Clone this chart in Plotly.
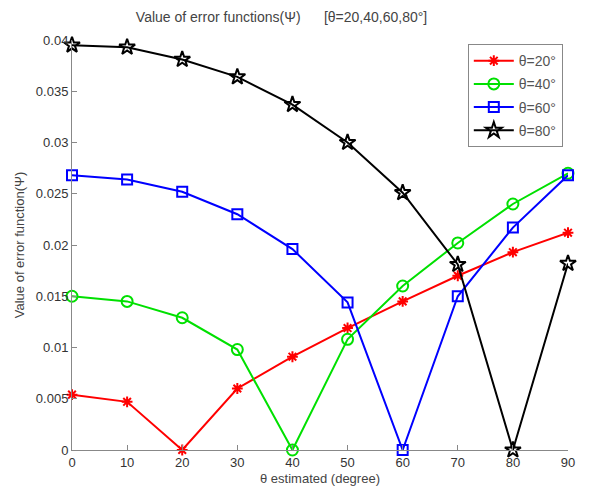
import plotly.graph_objects as go

theta_est = [0, 10, 20, 30, 40, 50, 60, 70, 80, 90]
psi_20 = [0.0054, 0.0047, 0.0, 0.0060, 0.0091, 0.0119, 0.0145, 0.0170, 0.0193, 0.0212]
psi_40 = [0.0150, 0.0145, 0.0129, 0.0098, 0.0, 0.0108, 0.0160, 0.0202, 0.0240, 0.0270]
psi_60 = [0.0268, 0.0264, 0.0252, 0.0230, 0.0196, 0.0144, 0.0, 0.0150, 0.0217, 0.0268]
psi_80 = [0.0395, 0.0393, 0.0381, 0.0364, 0.0337, 0.0300, 0.0251, 0.0181, 0.0, 0.0182]

series = [
    ("θ=20°", psi_20, "#ff0000", "asterisk-open", 9),
    ("θ=40°", psi_40, "#00e000", "circle-open", 11),
    ("θ=60°", psi_60, "#0000ff", "square-open", 10),
    ("θ=80°", psi_80, "#000000", "star-open", 12),
]

yticks = [0, 0.005, 0.01, 0.015, 0.02, 0.025, 0.03, 0.035, 0.04]
ytext = ["0", "0.005", "0.01", "0.015", "0.02", "0.025", "0.03", "0.035", "0.04"]
xticks = [0, 10, 20, 30, 40, 50, 60, 70, 80, 90]

fig = go.Figure()
for i, (name, vals, col, sym, sz) in enumerate(series):
    fig.add_trace(go.Scatter(
        x=theta_est, y=vals, name=name, mode="lines+markers",
        legendgroup="g%d" % i,
        line=dict(color=col, width=2),
        marker=dict(symbol=sym, size=sz, color=col, line=dict(color=col, width=2)),
        cliponaxis=False,
    ))

fig.update_layout(
    width=599, height=486,
    margin=dict(l=72, r=31, t=40, b=36),
    paper_bgcolor="white", plot_bgcolor="white",
    font=dict(family="Liberation Sans, Arial, sans-serif", size=13, color="#333333"),
    title=dict(text="Value of error functions(Ψ)      [θ=20,40,60,80°]",
               x=0.47, xanchor="center", y=0.965, yanchor="middle",
               font=dict(size=14, color="#444444")),
    showlegend=True,
    legend=dict(x=0.798, y=0.99, xanchor="left", yanchor="top",
                bordercolor="#888888", borderwidth=1, bgcolor="white",
                font=dict(size=14, color="#555555"),
                itemwidth=40, tracegroupgap=2),
    xaxis=dict(range=[0, 90], tickvals=xticks, showgrid=False, zeroline=False,
               showline=True, linecolor="#888888", linewidth=1, automargin=False,
               ticks="inside", ticklen=5, tickcolor="#888888",
               title=dict(text="θ estimated (degree)", standoff=7,
                          font=dict(size=13, color="#444444"))),
    yaxis=dict(range=[0, 0.04], tickvals=yticks, ticktext=ytext, showgrid=False,
               zeroline=False, showline=True, linecolor="#888888", linewidth=1,
               automargin=False,
               ticks="inside", ticklen=5, tickcolor="#888888",
               title=dict(text="Value of error function(Ψ)", standoff=8,
                          font=dict(size=13, color="#444444"))),
)

fig.write_html("out.html")
